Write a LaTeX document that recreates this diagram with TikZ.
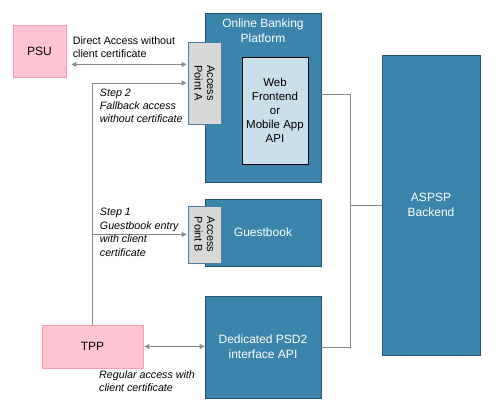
\documentclass[tikz,border=0pt]{standalone}
\usepackage{fontspec}
\setmainfont{Liberation Sans}
\usepackage{xcolor}
\usepackage{tikz}
\usetikzlibrary{arrows.meta, positioning}

\definecolor{bankblue}{HTML}{3B85AD}
\definecolor{bankedge}{HTML}{245674}
\definecolor{tppink}{HTML}{FFC4D2}
\definecolor{tppedge}{HTML}{FF9AAE}
\definecolor{apgray}{HTML}{D8D8D8}
\definecolor{apedge}{HTML}{4A7EA5}
\definecolor{webblue}{HTML}{C9DFEA}
\definecolor{linkgray}{HTML}{8A8A8A}

\begin{document}
\begin{tikzpicture}[
    x=1pt, y=-1pt,
    >={Triangle[length=5pt, width=5pt]},
    party/.style={rectangle, draw=tppedge, fill=tppink, line width=0.8pt, font=\fontsize{12}{15}\selectfont},
    bank/.style={rectangle, draw=bankedge, fill=bankblue, line width=0.8pt, minimum width=116pt, text=white, align=center, font=\fontsize{12}{15}\selectfont},
    access/.style={rectangle, draw=apedge, fill=apgray, line width=0.8pt, minimum width=33pt, align=center, rotate=-90, inner sep=1pt, font=\fontsize{11}{12.5}\selectfont},
    webapp/.style={rectangle, draw=black, fill=webblue, line width=0.8pt, minimum width=66pt, minimum height=107pt, align=center, font=\fontsize{11.5}{14}\selectfont},
    conn/.style={line width=0.9pt, draw=linkgray, <->},
    oneway/.style={line width=0.9pt, draw=linkgray, ->},
    link/.style={line width=0.9pt, draw=linkgray},
    note/.style={font=\fontsize{10.7}{13}\selectfont, align=left, inner sep=0pt}
]
    \useasboundingbox (0,0) rectangle (504,409);

    % Parties
    \node[party, minimum width=53pt, minimum height=52pt] (psu) at (39.5,51) {PSU};
    \node[party, minimum width=101pt, minimum height=43pt] (tpp) at (92.5,346.5) {TPP};

    % Bank side
    \node[bank, minimum height=169pt, label={[anchor=north, text=white, align=center, font=\fontsize{12}{15}\selectfont, yshift=-3pt]north:Online Banking\\Platform}] (obp) at (263,97.5) {};
    \node[webapp] (web) at (275,110.5) {Web\\Frontend\\or\\Mobile App\\API};
    \node[bank, minimum height=67pt] (guest) at (263,232.5) {Guestbook};
    \node[bank, minimum height=102pt] (psd2) at (263,347) {Dedicated PSD2\\interface API};
    \node[bank, minimum width=98pt, minimum height=300pt] (aspsp) at (431,205) {ASPSP\\Backend};

    % Access points (rotated: south is the left side)
    \node[access, minimum width=82pt, minimum height=33pt] (apA) at (204.5,83) {Access\\Point A};
    \node[access, minimum width=57pt, minimum height=33pt] (apB) at (204.5,234.5) {Access\\Point B};

    % Backend links
    \coordinate (bus) at ([xshift=-31pt]aspsp.west);
    \draw[link] ([yshift=3.5pt]obp.east) -| (bus) |- (psd2.east);
    \draw[link] (bus) -- (aspsp.west);

    % PSU direct access
    \draw[conn, shorten <=5pt, shorten >=1pt] ([yshift=13pt]psu.south east) -- ([yshift=13pt]psu.south east -| apA.south)
        node[note, pos=0, anchor=south west, xshift=6pt, yshift=6pt] {Direct Access without\\client certificate};

    % TPP steps
    \coordinate (split) at (tpp.north |- apB.south);
    \draw[oneway, shorten >=1pt] (tpp.north) |- (apA.south)
        node[note, pos=0.5, anchor=north west, xshift=7pt, yshift=-6pt, font=\fontsize{10.7}{13}\selectfont\itshape] {Step 2\\Fallback access\\without certificate};
    \draw[oneway, shorten >=1pt] (split) -- (apB.south)
        node[note, pos=0, anchor=west, xshift=7pt, yshift=2pt, font=\fontsize{10.7}{13.5}\selectfont\itshape] {Step 1\\Guestbook entry\\with client\\certificate};

    % Regular access
    \draw[conn, shorten <=1pt] (tpp.east) -- (tpp.east -| psd2.west);
    \node[note, anchor=north west, font=\fontsize{10.7}{13}\selectfont\itshape] (reglbl) at ([xshift=6.5pt, yshift=-2.5pt]tpp.south) {Regular access with\\client certificate};

\end{tikzpicture}
\end{document}
